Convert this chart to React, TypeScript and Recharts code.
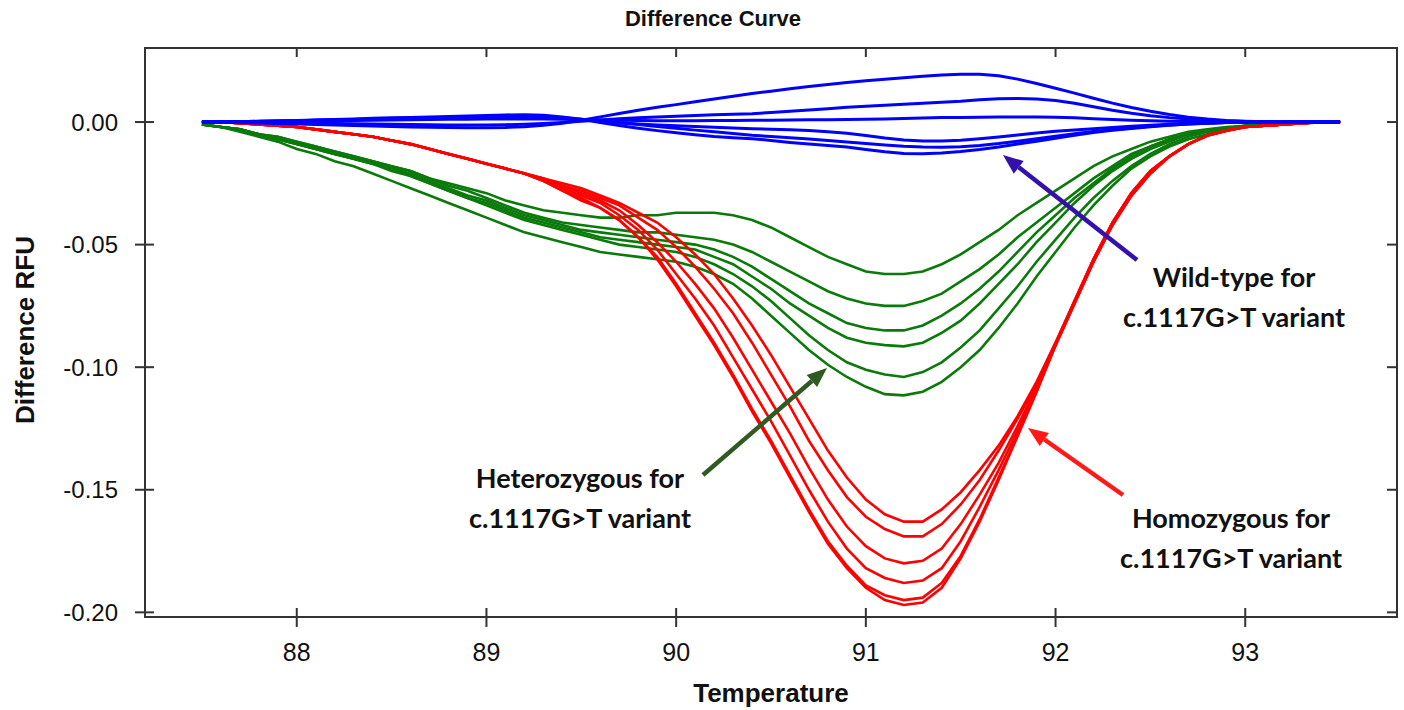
import { LineChart, Line, XAxis, YAxis } from 'recharts'

// ── data (temperature grid, °C) ──
const TEMPS = [
  87.5, 87.6, 87.7, 87.8, 87.9, 88.0, 88.1, 88.2, 88.3, 88.4,
  88.5, 88.6, 88.7, 88.8, 88.9, 89.0, 89.1, 89.2, 89.3, 89.4,
  89.5, 89.6, 89.7, 89.8, 89.9, 90.0, 90.1, 90.2, 90.3, 90.4,
  90.5, 90.6, 90.7, 90.8, 90.9, 91.0, 91.1, 91.2, 91.3, 91.4,
  91.5, 91.6, 91.7, 91.8, 91.9, 92.0, 92.1, 92.2, 92.3, 92.4,
  92.5, 92.6, 92.7, 92.8, 92.9, 93.0, 93.1, 93.2, 93.3, 93.4, 93.5,
]

// homozygous (red)
const RED_1 = [
  0, 0, -0.0005, -0.001, -0.0015, -0.002, -0.003, -0.004, -0.005, -0.006,
  -0.0075, -0.009, -0.011, -0.013, -0.015, -0.017, -0.019, -0.021, -0.023, -0.025,
  -0.027, -0.030, -0.033, -0.037, -0.041, -0.047, -0.054, -0.062, -0.072, -0.083,
  -0.095, -0.108, -0.121, -0.134, -0.145, -0.154, -0.160, -0.163, -0.163, -0.158,
  -0.151, -0.142, -0.132, -0.120, -0.106, -0.090, -0.073, -0.056, -0.041, -0.029,
  -0.020, -0.014, -0.009, -0.0055, -0.0035, -0.002, -0.0015, -0.001, -0.0005, 0, 0,
]
const RED_2 = [
  0, 0, -0.0005, -0.001, -0.0015, -0.002, -0.003, -0.004, -0.005, -0.006,
  -0.0075, -0.009, -0.011, -0.013, -0.015, -0.017, -0.019, -0.021, -0.023, -0.026,
  -0.028, -0.031, -0.034, -0.039, -0.044, -0.051, -0.059, -0.068, -0.078, -0.090,
  -0.103, -0.116, -0.130, -0.142, -0.153, -0.161, -0.166, -0.169, -0.169, -0.164,
  -0.156, -0.146, -0.134, -0.121, -0.107, -0.090, -0.073, -0.056, -0.041, -0.029,
  -0.020, -0.014, -0.009, -0.0055, -0.0035, -0.002, -0.0015, -0.001, -0.0005, 0, 0,
]
const RED_3 = [
  0, 0, -0.0005, -0.001, -0.0015, -0.002, -0.003, -0.004, -0.005, -0.006,
  -0.0075, -0.009, -0.011, -0.013, -0.015, -0.017, -0.019, -0.021, -0.023, -0.026,
  -0.029, -0.032, -0.036, -0.042, -0.049, -0.057, -0.066, -0.076, -0.088, -0.101,
  -0.114, -0.127, -0.141, -0.154, -0.165, -0.173, -0.178, -0.180, -0.179, -0.174,
  -0.164, -0.152, -0.139, -0.124, -0.108, -0.091, -0.073, -0.056, -0.041, -0.029,
  -0.020, -0.014, -0.009, -0.0055, -0.0035, -0.002, -0.0015, -0.001, -0.0005, 0, 0,
]
const RED_4 = [
  0, 0, -0.0005, -0.001, -0.0015, -0.002, -0.003, -0.004, -0.005, -0.006,
  -0.0075, -0.009, -0.011, -0.013, -0.015, -0.017, -0.019, -0.021, -0.024, -0.027,
  -0.030, -0.033, -0.038, -0.044, -0.052, -0.062, -0.072, -0.083, -0.096, -0.109,
  -0.122, -0.136, -0.150, -0.163, -0.174, -0.182, -0.186, -0.188, -0.187, -0.182,
  -0.171, -0.157, -0.142, -0.126, -0.109, -0.091, -0.074, -0.057, -0.042, -0.030,
  -0.021, -0.014, -0.009, -0.0055, -0.0035, -0.002, -0.0015, -0.001, -0.0005, 0, 0,
]
const RED_5 = [
  0, 0, -0.0005, -0.001, -0.0015, -0.002, -0.003, -0.004, -0.005, -0.006,
  -0.0075, -0.009, -0.011, -0.013, -0.015, -0.017, -0.019, -0.021, -0.024, -0.028,
  -0.031, -0.035, -0.040, -0.047, -0.055, -0.066, -0.078, -0.090, -0.103, -0.117,
  -0.130, -0.144, -0.158, -0.171, -0.181, -0.189, -0.193, -0.195, -0.194, -0.188,
  -0.177, -0.162, -0.145, -0.128, -0.110, -0.091, -0.074, -0.057, -0.042, -0.030,
  -0.021, -0.014, -0.009, -0.0055, -0.0035, -0.002, -0.0015, -0.001, -0.0005, 0, 0,
]
const RED_6 = [
  0, 0, -0.0005, -0.001, -0.0015, -0.002, -0.003, -0.004, -0.005, -0.006,
  -0.0075, -0.009, -0.011, -0.013, -0.015, -0.017, -0.019, -0.021, -0.024, -0.028,
  -0.032, -0.035, -0.040, -0.047, -0.056, -0.067, -0.079, -0.091, -0.104, -0.118,
  -0.131, -0.145, -0.159, -0.172, -0.182, -0.190, -0.195, -0.197, -0.196, -0.190,
  -0.178, -0.163, -0.146, -0.128, -0.110, -0.091, -0.074, -0.057, -0.042, -0.030,
  -0.021, -0.014, -0.009, -0.0055, -0.0035, -0.002, -0.0015, -0.001, -0.0005, 0, 0,
]

// heterozygous (green)
const GREEN_1 = [
  -0.001, -0.002, -0.003, -0.005, -0.006, -0.008, -0.010, -0.012, -0.014, -0.016,
  -0.018, -0.020, -0.023, -0.025, -0.027, -0.029, -0.032, -0.034, -0.036, -0.037,
  -0.038, -0.039, -0.039, -0.038, -0.038, -0.037, -0.037, -0.037, -0.038, -0.040,
  -0.043, -0.047, -0.051, -0.055, -0.058, -0.061, -0.062, -0.062, -0.061, -0.058,
  -0.054, -0.049, -0.044, -0.038, -0.033, -0.028, -0.023, -0.018, -0.014, -0.011,
  -0.008, -0.006, -0.004, -0.003, -0.002, -0.0015, -0.001, -0.0007, -0.0004, -0.0002, 0,
]
const GREEN_2 = [
  -0.001, -0.002, -0.003, -0.005, -0.006, -0.008, -0.010, -0.012, -0.014, -0.016,
  -0.018, -0.020, -0.023, -0.026, -0.028, -0.031, -0.034, -0.037, -0.039, -0.041,
  -0.042, -0.043, -0.044, -0.045, -0.045, -0.046, -0.047, -0.048, -0.050, -0.053,
  -0.057, -0.061, -0.065, -0.069, -0.072, -0.074, -0.075, -0.075, -0.073, -0.070,
  -0.065, -0.060, -0.054, -0.047, -0.041, -0.035, -0.029, -0.023, -0.018, -0.013,
  -0.010, -0.007, -0.005, -0.0035, -0.0025, -0.0015, -0.001, -0.0007, -0.0004, -0.0002, 0,
]
const GREEN_3 = [
  -0.001, -0.002, -0.003, -0.005, -0.007, -0.009, -0.011, -0.013, -0.015, -0.017,
  -0.019, -0.021, -0.024, -0.027, -0.030, -0.032, -0.035, -0.038, -0.040, -0.042,
  -0.044, -0.045, -0.046, -0.047, -0.048, -0.049, -0.050, -0.052, -0.055, -0.059,
  -0.064, -0.069, -0.074, -0.078, -0.082, -0.084, -0.085, -0.085, -0.083, -0.079,
  -0.074, -0.068, -0.061, -0.053, -0.045, -0.038, -0.031, -0.025, -0.019, -0.014,
  -0.010, -0.007, -0.005, -0.0035, -0.0025, -0.0015, -0.001, -0.0007, -0.0004, -0.0002, 0,
]
const GREEN_4 = [
  -0.001, -0.002, -0.003, -0.005, -0.007, -0.009, -0.011, -0.013, -0.015, -0.017,
  -0.019, -0.022, -0.025, -0.028, -0.031, -0.033, -0.036, -0.039, -0.041, -0.043,
  -0.045, -0.047, -0.048, -0.049, -0.050, -0.051, -0.052, -0.055, -0.058, -0.063,
  -0.068, -0.074, -0.079, -0.084, -0.088, -0.090, -0.091, -0.0915, -0.090, -0.086,
  -0.081, -0.074, -0.066, -0.058, -0.049, -0.041, -0.033, -0.026, -0.020, -0.015,
  -0.011, -0.008, -0.005, -0.0035, -0.0025, -0.0015, -0.001, -0.0007, -0.0004, -0.0002, 0,
]
const GREEN_5 = [
  -0.001, -0.002, -0.003, -0.005, -0.007, -0.009, -0.011, -0.013, -0.015, -0.017,
  -0.020, -0.022, -0.025, -0.028, -0.031, -0.034, -0.037, -0.040, -0.042, -0.044,
  -0.046, -0.048, -0.050, -0.051, -0.052, -0.053, -0.055, -0.058, -0.062, -0.067,
  -0.073, -0.080, -0.087, -0.093, -0.098, -0.101, -0.103, -0.104, -0.102, -0.098,
  -0.092, -0.085, -0.076, -0.067, -0.057, -0.048, -0.039, -0.031, -0.024, -0.018,
  -0.013, -0.009, -0.006, -0.004, -0.003, -0.002, -0.0015, -0.001, -0.0005, -0.0002, 0,
]
const GREEN_6 = [
  -0.001, -0.002, -0.004, -0.006, -0.008, -0.011, -0.013, -0.016, -0.018, -0.021,
  -0.024, -0.027, -0.030, -0.033, -0.036, -0.039, -0.042, -0.045, -0.047, -0.049,
  -0.051, -0.053, -0.054, -0.055, -0.056, -0.057, -0.059, -0.062, -0.066, -0.072,
  -0.079, -0.086, -0.093, -0.099, -0.104, -0.108, -0.111, -0.1115, -0.110, -0.106,
  -0.100, -0.093, -0.084, -0.074, -0.063, -0.053, -0.043, -0.034, -0.026, -0.019,
  -0.014, -0.010, -0.007, -0.005, -0.003, -0.002, -0.0015, -0.001, -0.0005, -0.0002, 0,
]

// wild-type (blue)
const BLUE_1 = [
  0, 0, -0.0002, -0.0004, -0.0006, -0.0008, -0.001, -0.0012, -0.0014, -0.0016,
  -0.0018, -0.002, -0.0021, -0.0022, -0.0023, -0.0023, -0.0022, -0.0019, -0.0013, -0.0005,
  0.0007, 0.0021, 0.0035, 0.0048, 0.006, 0.0071, 0.0083, 0.0094, 0.0105, 0.0116,
  0.0126, 0.0136, 0.0145, 0.0153, 0.0161, 0.0168, 0.0175, 0.0181, 0.0187, 0.0192,
  0.0195, 0.0195, 0.0189, 0.0175, 0.0157, 0.0138, 0.0118, 0.0097, 0.0077, 0.0059,
  0.0044, 0.0031, 0.002, 0.0012, 0.0006, 0.0003, 0.0001, 0, 0, 0, 0,
]
const BLUE_2 = [
  0, 0, -0.0001, -0.0002, -0.0003, -0.0004, -0.0005, -0.0006, -0.0007, -0.0008,
  -0.0009, -0.001, -0.0011, -0.0012, -0.0012, -0.0012, -0.0011, -0.0009, -0.0006, -0.0002,
  0.0003, 0.0008, 0.0013, 0.0017, 0.0021, 0.0024, 0.0027, 0.003, 0.0032, 0.0034,
  0.0039, 0.0044, 0.0049, 0.0054, 0.006, 0.0064, 0.0068, 0.0073, 0.0077, 0.0081,
  0.0085, 0.0091, 0.0095, 0.0096, 0.0094, 0.0088, 0.0077, 0.0062, 0.0048, 0.0036,
  0.0026, 0.0018, 0.0012, 0.0007, 0.0004, 0.0002, 0.0001, 0, 0, 0, 0,
]
const BLUE_3 = [
  0, 0, 0.0001, 0.0002, 0.0002, 0.0003, 0.0004, 0.0005, 0.0006, 0.0007,
  0.0008, 0.0009, 0.001, 0.0011, 0.0011, 0.0012, 0.0012, 0.0012, 0.0012, 0.0011,
  0.0009, 0.0008, 0.0007, 0.0006, 0.0005, 0.0005, 0.0005, 0.0006, 0.0006, 0.0007,
  0.0007, 0.0008, 0.0009, 0.0009, 0.001, 0.0011, 0.0012, 0.0014, 0.0016, 0.0018,
  0.0019, 0.002, 0.0021, 0.0021, 0.0021, 0.002, 0.0017, 0.0013, 0.001, 0.0007,
  0.0005, 0.0003, 0.0002, 0.0001, 0.0001, 0, 0, 0, 0, 0, 0,
]
const BLUE_4 = [
  0, 0, 0.0001, 0.0002, 0.0004, 0.0005, 0.0007, 0.0008, 0.001, 0.0011,
  0.0013, 0.0014, 0.0016, 0.0017, 0.0019, 0.002, 0.0021, 0.0022, 0.0019, 0.0015,
  0.0009, 0.0003, -0.0003, -0.0008, -0.0012, -0.0015, -0.0018, -0.0021, -0.0024, -0.0027,
  -0.0029, -0.0031, -0.0035, -0.004, -0.0046, -0.0055, -0.0065, -0.0073, -0.0077, -0.0077,
  -0.0074, -0.0068, -0.0061, -0.0053, -0.0045, -0.0038, -0.0032, -0.0027, -0.0022, -0.0017,
  -0.0013, -0.0009, -0.0006, -0.0004, -0.0002, -0.0001, 0, 0, 0, 0, 0,
]
const BLUE_5 = [
  0, 0, 0.0001, 0.0003, 0.0004, 0.0005, 0.0007, 0.0009, 0.001, 0.0012,
  0.0014, 0.0016, 0.0018, 0.0019, 0.0021, 0.0022, 0.0024, 0.0025, 0.0022, 0.0018,
  0.0011, 0.0004, -0.0003, -0.001, -0.0018, -0.0025, -0.0033, -0.004, -0.0047, -0.0054,
  -0.0059, -0.0064, -0.0069, -0.0075, -0.0081, -0.0088, -0.0094, -0.0099, -0.0102, -0.0103,
  -0.0101, -0.0096, -0.0088, -0.0078, -0.0068, -0.0058, -0.0048, -0.0039, -0.0031, -0.0024,
  -0.0017, -0.0012, -0.0008, -0.0005, -0.0002, -0.0001, 0, 0, 0, 0, 0,
]
const BLUE_6 = [
  0, 0, 0.0001, 0.0003, 0.0004, 0.0006, 0.0008, 0.001, 0.0012, 0.0015,
  0.0017, 0.0019, 0.0021, 0.0023, 0.0025, 0.0027, 0.0029, 0.003, 0.0028, 0.0021,
  0.0011, -0.0002, -0.0014, -0.0025, -0.0035, -0.0044, -0.0052, -0.0059, -0.0064, -0.0068,
  -0.0075, -0.0083, -0.009, -0.0096, -0.0102, -0.0112, -0.0121, -0.0128, -0.0129, -0.0126,
  -0.012, -0.0112, -0.0102, -0.009, -0.0078, -0.0066, -0.0054, -0.0043, -0.0034, -0.0026,
  -0.0019, -0.0013, -0.0008, -0.0005, -0.0002, -0.0001, 0, 0, 0, 0, 0,
]

const X_TICKS = [88, 89, 90, 91, 92, 93]
const Y_TICKS = [0, -0.05, -0.1, -0.15, -0.2]
const X_DOMAIN = [87.2, 93.8]
const Y_DOMAIN = [-0.2019, 0.0302]

const RED = '#ff0000'
const GREEN = '#0a7a0a'
const BLUE = '#0000ff'

// drawing order: green under red under blue
const SERIES = [
  { key: 'g1', values: GREEN_1, color: GREEN, width: 2.6 },
  { key: 'g2', values: GREEN_2, color: GREEN, width: 2.6 },
  { key: 'g3', values: GREEN_3, color: GREEN, width: 2.6 },
  { key: 'g4', values: GREEN_4, color: GREEN, width: 2.6 },
  { key: 'g5', values: GREEN_5, color: GREEN, width: 2.6 },
  { key: 'g6', values: GREEN_6, color: GREEN, width: 2.6 },
  { key: 'r1', values: RED_1, color: RED, width: 2.6 },
  { key: 'r2', values: RED_2, color: RED, width: 2.6 },
  { key: 'r3', values: RED_3, color: RED, width: 2.6 },
  { key: 'r4', values: RED_4, color: RED, width: 2.6 },
  { key: 'r5', values: RED_5, color: RED, width: 2.6 },
  { key: 'r6', values: RED_6, color: RED, width: 2.6 },
  { key: 'b1', values: BLUE_1, color: BLUE, width: 3 },
  { key: 'b2', values: BLUE_2, color: BLUE, width: 3 },
  { key: 'b3', values: BLUE_3, color: BLUE, width: 3 },
  { key: 'b4', values: BLUE_4, color: BLUE, width: 3 },
  { key: 'b5', values: BLUE_5, color: BLUE, width: 3 },
  { key: 'b6', values: BLUE_6, color: BLUE, width: 3 },
]

const rows = TEMPS.map((t, i) => {
  const row: Record<string, number> = { t }
  SERIES.forEach(s => { row[s.key] = s.values[i] })
  return row
})

/* ── layout ── */
const W = 1404, H = 710
const PLOT_LEFT = 145, PLOT_TOP = 48, PLOT_RIGHT = 1397, PLOT_BOTTOM = 617
const YAXIS_W = 100, XAXIS_H = 60
const AXIS = '#333'
const TICK_FONT = '"Liberation Sans", Arial, sans-serif'
const NOTE_FONT = 'Lato, "Open Sans", sans-serif'

// bottom ticks cross the axis, top ticks point inward
const XTick = (props: any) => {
  const { x, payload } = props
  return (
    <g>
      <line x1={x} x2={x} y1={PLOT_BOTTOM - 9} y2={PLOT_BOTTOM + 10} stroke={AXIS} strokeWidth={2} />
      <line x1={x} x2={x} y1={PLOT_TOP} y2={PLOT_TOP + 9} stroke={AXIS} strokeWidth={2} />
      <text x={x} y={PLOT_BOTTOM + 44} textAnchor="middle" fontSize={25} fontFamily={TICK_FONT} fill="#111">
        {payload.value}
      </text>
    </g>
  )
}

// left ticks cross the axis, right ticks point inward
const YTick = (props: any) => {
  const { y, payload } = props
  return (
    <g>
      <line x1={PLOT_LEFT - 10} x2={PLOT_LEFT + 9} y1={y} y2={y} stroke={AXIS} strokeWidth={2} />
      <line x1={PLOT_RIGHT - 10} x2={PLOT_RIGHT} y1={y} y2={y} stroke={AXIS} strokeWidth={2} />
      <text x={118} y={y} dy="0.36em" textAnchor="end" fontSize={24} fontFamily={TICK_FONT} fill="#111">
        {Number(payload.value).toFixed(2)}
      </text>
    </g>
  )
}

const Arrow = ({ from, to, color }: { from: number[]; to: number[]; color: string }) => {
  const dx = to[0] - from[0], dy = to[1] - from[1]
  const len = Math.hypot(dx, dy)
  const ux = dx / len, uy = dy / len
  const headL = 20, headW = 8
  const bx = to[0] - ux * headL, by = to[1] - uy * headL
  const pts = [
    `${to[0]},${to[1]}`,
    `${bx - uy * headW},${by + ux * headW}`,
    `${bx + uy * headW},${by - ux * headW}`,
  ].join(' ')
  return (
    <g>
      <line x1={from[0]} y1={from[1]} x2={bx} y2={by} stroke={color} strokeWidth={4.5} />
      <polygon points={pts} fill={color} />
    </g>
  )
}

const Note = ({ x, y, lines }: { x: number; y: number; lines: string[] }) => (
  <text x={x} y={y} textAnchor="middle" fontSize={27} fontWeight={700} fontFamily={NOTE_FONT} fill="#111">
    {lines.map((l, i) => (
      <tspan key={i} x={x} dy={i === 0 ? 0 : 40}>{l}</tspan>
    ))}
  </text>
)

export default function App() {
  return (
    <div style={{ position: 'absolute', left: 0, top: 0, width: W, height: H, background: '#fff' }}>
      <LineChart
        width={W}
        height={H}
        data={rows}
        margin={{ top: PLOT_TOP, right: W - PLOT_RIGHT, bottom: H - PLOT_BOTTOM - XAXIS_H, left: PLOT_LEFT - YAXIS_W }}
      >
        <XAxis
          dataKey="t"
          type="number"
          domain={X_DOMAIN}
          ticks={X_TICKS}
          interval={0}
          allowDataOverflow
          height={XAXIS_H}
          axisLine={false}
          tickLine={false}
          tick={<XTick />}
        />
        <YAxis
          type="number"
          domain={Y_DOMAIN}
          ticks={Y_TICKS}
          interval={0}
          allowDataOverflow
          width={YAXIS_W}
          axisLine={false}
          tickLine={false}
          tick={<YTick />}
        />
        {SERIES.map(s => (
          <Line
            key={s.key}
            dataKey={s.key}
            type="linear"
            stroke={s.color}
            strokeWidth={s.width}
            dot={false}
            activeDot={false}
            isAnimationActive={false}
          />
        ))}
      </LineChart>

      <svg width={W} height={H} style={{ position: 'absolute', left: 0, top: 0, pointerEvents: 'none' }}>
        <rect x={PLOT_LEFT} y={PLOT_TOP} width={PLOT_RIGHT - PLOT_LEFT} height={PLOT_BOTTOM - PLOT_TOP}
          fill="none" stroke={AXIS} strokeWidth={2} />
        <text x={713} y={26} textAnchor="middle" fontSize={22} fontWeight={700} fontFamily={TICK_FONT} fill="#111">
          Difference Curve
        </text>
        <text x={771} y={702} textAnchor="middle" fontSize={26} fontWeight={700} fontFamily={TICK_FONT} fill="#111">
          Temperature
        </text>
        <text transform="translate(34,330) rotate(-90)" textAnchor="middle" fontSize={26} fontWeight={700}
          fontFamily={TICK_FONT} fill="#111">
          Difference RFU
        </text>

        <Arrow from={[1137, 260]} to={[1003, 155]} color="#3311aa" />
        <Arrow from={[703, 475]} to={[827, 368]} color="#2f5a22" />
        <Arrow from={[1123, 495]} to={[1028, 428]} color="#ff1a1a" />

        <Note x={1234} y={287} lines={['Wild-type for', 'c.1117G>T variant']} />
        <Note x={580} y={488} lines={['Heterozygous for', 'c.1117G>T variant']} />
        <Note x={1231} y={528} lines={['Homozygous for', 'c.1117G>T variant']} />
      </svg>
    </div>
  )
}
